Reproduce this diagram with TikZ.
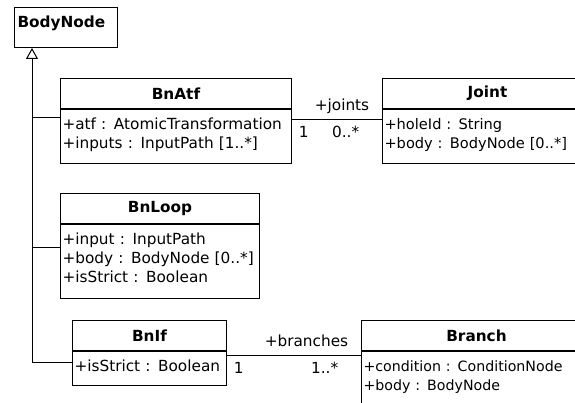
\documentclass[tikz,border=0pt]{standalone}
\usepackage{fontspec}
\setmainfont{DejaVu Sans}
\usepackage{tikz}
\usetikzlibrary{arrows.meta}
\usetikzlibrary{positioning}

\begin{document}
\begin{tikzpicture}[x=1pt,y=-1pt,line width=1pt,
  every node/.style={font=\fontsize{15.3}{19}\selectfont},
  title/.style={draw,anchor=north west,font=\fontsize{15.3}{19}\selectfont\bfseries,minimum height=30pt,inner sep=0pt},
  attrs/.style={draw,align=left,inner xsep=2pt,inner ysep=8pt,text height=12pt,text depth=#1},
  role/.style={pos=1,anchor=base east,xshift=-9pt,yshift=9pt},
  mult/.style={pos=1,anchor=base east,xshift=-19pt,yshift=-18pt},
  one/.style={pos=0,anchor=base west,xshift=3pt,yshift=-18pt},
  generalize/.style={-{Triangle[open,length=11pt,width=12pt]}}]
  \clip (0,0) rectangle (575,403);
  \node[draw,anchor=north west,font=\fontsize{15.3}{19}\selectfont\bfseries,text width=97pt,align=left,inner xsep=3pt,inner ysep=0pt,text height=20.5pt,text depth=19.5pt] (bodynode) at (14,7) {BodyNode};
  \node[title,minimum width=231pt] (bnatf) at (60,78) {BnAtf};
  \node[attrs=26pt,text width=227pt,below=0pt of bnatf] (bnatfattr) {+atf : AtomicTransformation\\+inputs : InputPath [1..*]};
  \node[title,minimum width=210pt] (joint) at (382,78) {Joint};
  \node[attrs=26pt,text width=206pt,below=0pt of joint,font=\fontsize{14.6}{19}\selectfont] (jointattr) {+holeId : String\\+body : BodyNode [0..*]};
  \node[title,minimum width=199pt] (bnloop) at (60,193) {BnLoop};
  \node[attrs=46pt,text width=195pt,below=0pt of bnloop] (bnloopattr) {+input : InputPath\\+body : BodyNode [0..*]\\+isStrict : Boolean};
  \node[title,minimum width=154pt] (bnif) at (72,320) {BnIf};
  \node[attrs=6pt,text width=150pt,below=0pt of bnif] (bnifattr) {+isStrict : Boolean};
  \node[title,minimum width=230pt] (branch) at (361,320) {Branch};
  \node[attrs=42pt,text width=226pt,below=0pt of branch,font=\fontsize{14.2}{19}\selectfont] (branchattr) {+condition : ConditionNode\\+body : BodyNode};
  % inheritance
  \draw[generalize] ([yshift=-11pt]bnifattr.north west) -| ([xshift=18pt]bodynode.south west);
  \draw ([yshift=-9pt]bnatfattr.north west) -- ++(-28,0);
  \draw ([yshift=-24pt]bnloopattr.north west) -- ++(-28,0);
  % associations
  \draw ([yshift=-11pt]bnatfattr.north east) -- ([yshift=-11pt]jointattr.north west)
    node[role]{+joints} node[mult]{0..*} node[one]{1};
  \draw ([yshift=-4pt]bnifattr.north east) -- ([yshift=-4pt]branchattr.north west)
    node[role]{+branches} node[mult]{1..*} node[one]{1};
\end{tikzpicture}
\end{document}
